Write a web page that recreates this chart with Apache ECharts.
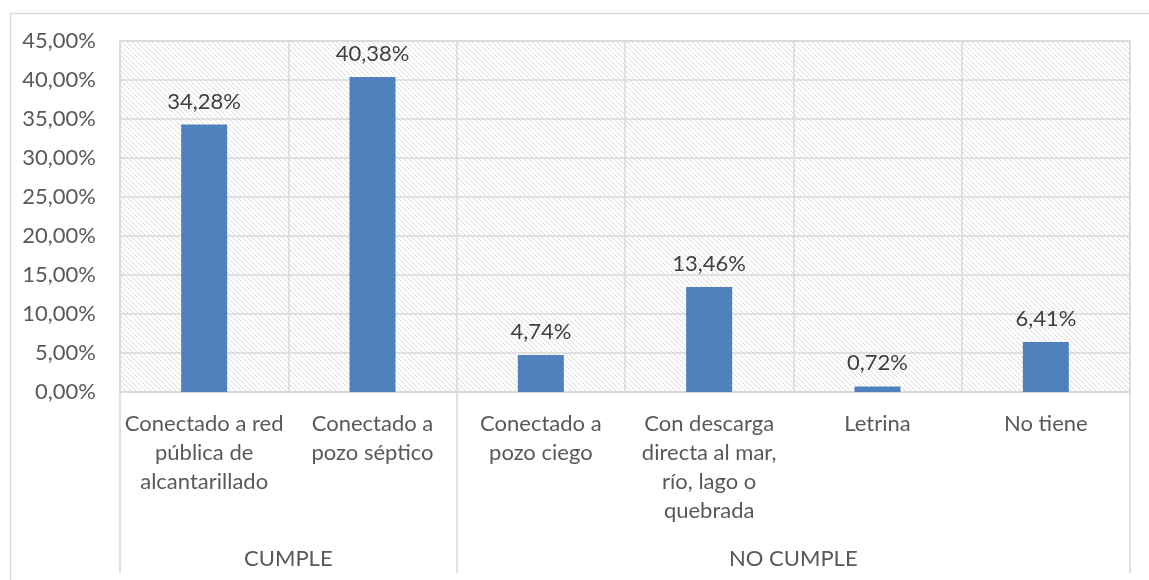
<!DOCTYPE html>
<html>
<head>
<meta charset="utf-8">
<script src="https://cdn.jsdelivr.net/npm/echarts@6/dist/echarts.min.js"></script>
<style>
  html, body { margin: 0; padding: 0; background: #fff; }
  #chart { width: 1149px; height: 580px; }
</style>
</head>
<body>
<div id="chart"></div>
<script>
var categories = [
	'Conectado a red\npública de\nalcantarillado',
	'Conectado a\npozo séptico',
	'Conectado a\npozo ciego',
	'Con descarga\ndirecta al mar,\nrío, lago o\nquebrada',
	'Letrina',
	'No tiene'
];
var values = [34.28, 40.38, 4.74, 13.46, 0.72, 6.41];
var groups = ['CUMPLE', 'NO CUMPLE'];
var groupSizes = [2, 4];
var yTicks = [0, 5, 10, 15, 20, 25, 30, 35, 40, 45];

var FONT = 'Lato';
var FS = 22;

function pct(v) {
	return v.toFixed(2).replace('.', ',') + '%';
}

// hatch tile for the plot background
var tile = document.createElement('canvas');
tile.width = 5;
tile.height = 5;
var ctx = tile.getContext('2d');
ctx.fillStyle = '#fff';
ctx.fillRect(0, 0, 5, 5);
ctx.fillStyle = '#dadada';
for (var i = 0; i < 5; i++) {
	ctx.fillRect(i, i, 1, 1);
}

// group label positions and separators, in category units
var groupCenters = [];
var groupEdges = [0];
var acc = 0;
for (var g = 0; g < groups.length; g++) {
	groupCenters.push(acc + groupSizes[g] / 2);
	acc += groupSizes[g];
	groupEdges.push(acc);
}

var chart = echarts.init(document.getElementById('chart'));

var option = {
	backgroundColor: '#fff',
	animation: false,
	textStyle: { fontFamily: FONT },
	graphic: [{
		type: 'rect',
		left: 8,
		top: 11,
		shape: { width: 1400, height: 800 },
		style: { fill: 'none', stroke: '#d9d9d9', lineWidth: 1.5 },
		silent: true,
		z: -10
	}],
	grid: {
		left: 120,
		right: 19,
		top: 41,
		bottom: 188,
		show: true,
		backgroundColor: { image: tile, repeat: 'repeat' },
		borderColor: '#d9d9d9',
		borderWidth: 1.5
	},
	xAxis: [{
		type: 'category',
		data: categories,
		axisLine: { lineStyle: { color: '#d9d9d9', width: 1.5 } },
		axisTick: { show: false },
		splitLine: { show: true, lineStyle: { color: '#d9d9d9', width: 1.5 } },
		axisLabel: {
			interval: 0,
			margin: 17,
			color: '#595959',
			fontSize: FS,
			lineHeight: 29,
			fontFamily: FONT
		}
	}, {
		type: 'value',
		position: 'bottom',
		min: 0,
		max: categories.length,
		axisLine: { show: false },
		splitLine: { show: false },
		axisTick: {
			show: true,
			customValues: groupEdges,
			length: 181,
			lineStyle: { color: '#d9d9d9', width: 1.5 }
		},
		axisLabel: {
			customValues: groupCenters,
			margin: 156,
			color: '#595959',
			fontSize: FS,
			fontFamily: FONT,
			formatter: function (v) {
				var k = groupCenters.indexOf(v);
				return k >= 0 ? groups[k] : '';
			}
		}
	}],
	yAxis: {
		type: 'value',
		min: yTicks[0],
		max: yTicks[yTicks.length - 1],
		interval: yTicks[1] - yTicks[0],
		axisLine: { show: false },
		axisTick: { show: false },
		splitLine: { lineStyle: { color: '#d9d9d9', width: 1.5 } },
		axisLabel: {
			margin: 24,
			color: '#595959',
			fontSize: FS,
			fontFamily: FONT,
			formatter: pct
		}
	},
	series: [{
		type: 'bar',
		data: values,
		barWidth: 46,
		itemStyle: { color: '#4f81bd' },
		label: {
			show: true,
			position: 'top',
			distance: 12,
			color: '#404040',
			fontSize: FS,
			fontFamily: FONT,
			formatter: function (p) { return pct(p.value); }
		}
	}]
};

chart.setOption(option);
</script>
</body>
</html>
